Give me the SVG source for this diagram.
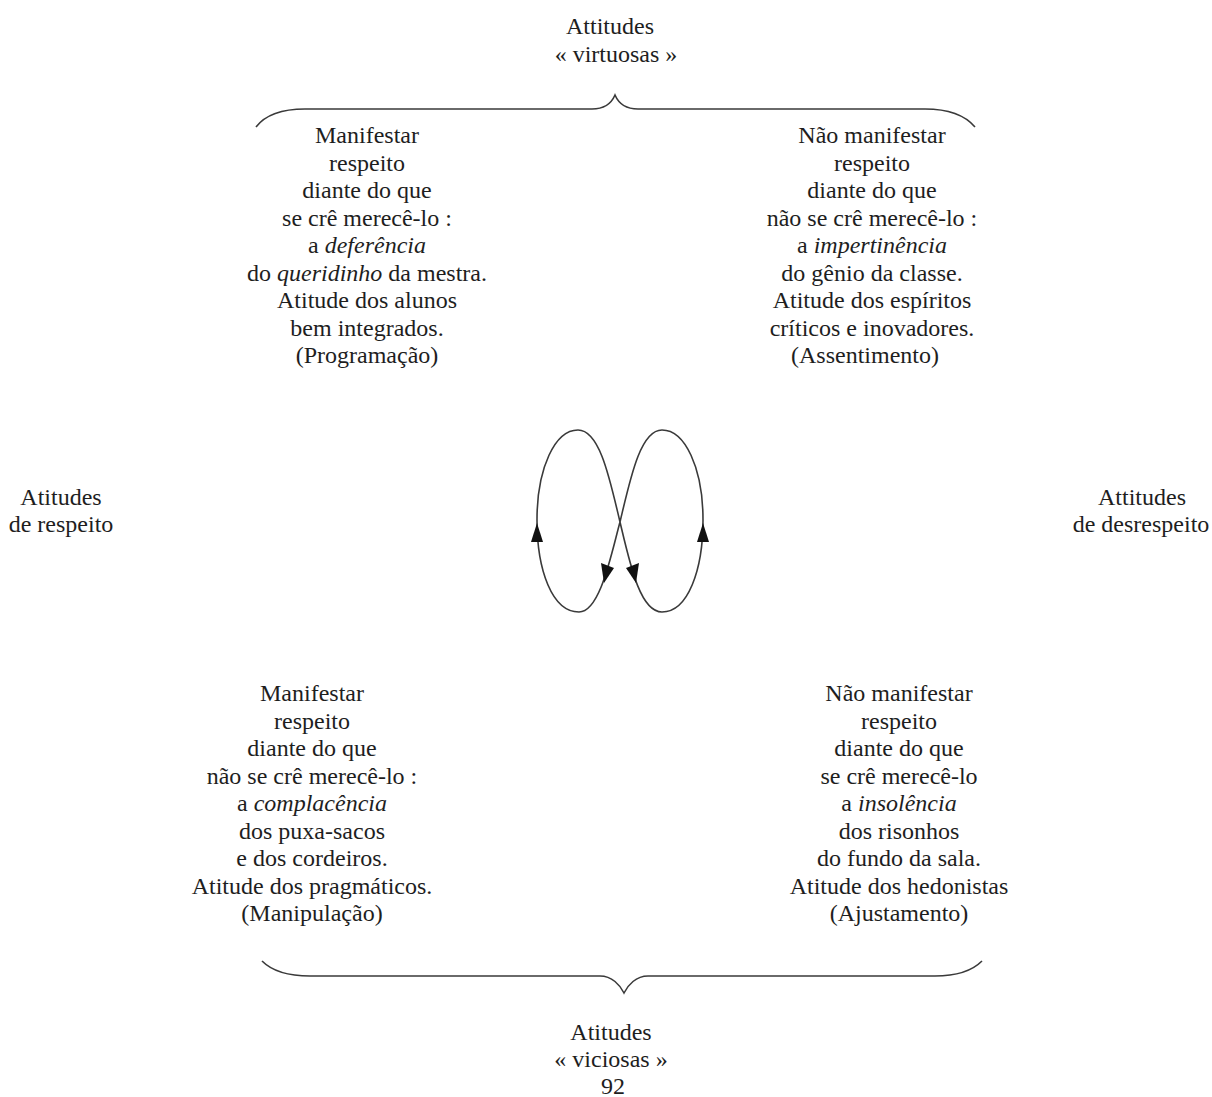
<svg xmlns="http://www.w3.org/2000/svg" width="1212" height="1097" viewBox="0 0 1212 1097">
<style>
text{font-family:"Liberation Serif","Times New Roman",serif;font-size:24px;fill:#1e1e1e;text-anchor:middle}
.i{font-style:italic}
.ln{fill:none;stroke:#3a3a3a;stroke-width:1.6}
.ah{fill:#111}
</style>
<rect width="1212" height="1097" fill="#fff"/>
<g id="title-top">
<text x="610" y="34">Attitudes</text>
<text x="616" y="62">« virtuosas »</text>
</g>
<g id="title-bottom">
<text x="611" y="1040">Atitudes</text>
<text x="611" y="1067">« viciosas »</text>
<text x="613" y="1094">92</text>
</g>
<g id="title-left">
<text x="61" y="505">Atitudes</text>
<text x="61" y="532">de respeito</text>
</g>
<g id="title-right">
<text x="1142" y="505">Attitudes</text>
<text x="1141" y="532">de desrespeito</text>
</g>
<g id="node-top-left">
<text x="367" y="143">Manifestar</text>
<text x="367" y="170.5">respeito</text>
<text x="367" y="198">diante do que</text>
<text x="367" y="225.5">se crê merecê-lo :</text>
<text x="367" y="253">a <tspan class="i">deferência</tspan></text>
<text x="367" y="280.5">do <tspan class="i">queridinho</tspan> da mestra.</text>
<text x="367" y="308">Atitude dos alunos</text>
<text x="367" y="335.5">bem integrados.</text>
<text x="367" y="363">(Programação)</text>
</g>
<g id="node-top-right">
<text x="872" y="143">Não manifestar</text>
<text x="872" y="170.5">respeito</text>
<text x="872" y="198">diante do que</text>
<text x="872" y="225.5">não se crê merecê-lo :</text>
<text x="872" y="253">a <tspan class="i">impertinência</tspan></text>
<text x="872" y="280.5">do gênio da classe.</text>
<text x="872" y="308">Atitude dos espíritos</text>
<text x="872" y="335.5">críticos e inovadores.</text>
<text x="865" y="363">(Assentimento)</text>
</g>
<g id="node-bottom-left">
<text x="312" y="701">Manifestar</text>
<text x="312" y="728.5">respeito</text>
<text x="312" y="756">diante do que</text>
<text x="312" y="783.5">não se crê merecê-lo :</text>
<text x="312" y="811">a <tspan class="i">complacência</tspan></text>
<text x="312" y="838.5">dos puxa-sacos</text>
<text x="312" y="866">e dos cordeiros.</text>
<text x="312" y="893.5">Atitude dos pragmáticos.</text>
<text x="312" y="921">(Manipulação)</text>
</g>
<g id="node-bottom-right">
<text x="899" y="701">Não manifestar</text>
<text x="899" y="728.5">respeito</text>
<text x="899" y="756">diante do que</text>
<text x="899" y="783.5">se crê merecê-lo</text>
<text x="899" y="811">a <tspan class="i">insolência</tspan></text>
<text x="899" y="838.5">dos risonhos</text>
<text x="899" y="866">do fundo da sala.</text>
<text x="899" y="893.5">Atitude dos hedonistas</text>
<text x="899" y="921">(Ajustamento)</text>
</g>
<g id="connectors">
<path class="ln" d="M256,127 C266,114 283,109 305,109 L592,109 C605,109 612,102 615,95 C618,102 625,109 638,109 L925,109 C947,109 964,114 975,127"/>
<path class="ln" d="M262,961 C273,972 290,976 310,976 L600,976 C612,976 620,985 624,993 C628,985 636,976 648,976 L935,976 C955,976 971,972 982,961"/>
<path class="ln" d="M620,522 C611,555 600,612 579,612 C552,612 537,570 537,520 C537,468 555,430 578,430 C600,430 610,480 620,522 C630,564 640,612 662,612 C688,612 703,570 703,520 C703,468 685,430 662,430 C640,430 630,480 620,522 Z"/>
<polygon class="ah" points="537,523 531,542 543,542"/>
<polygon class="ah" points="703,523 697,542 709,542"/>
<polygon class="ah" points="604,583 601,563 614,568"/>
<polygon class="ah" points="636,583 626,568 639,563"/>
</g>
</svg>
